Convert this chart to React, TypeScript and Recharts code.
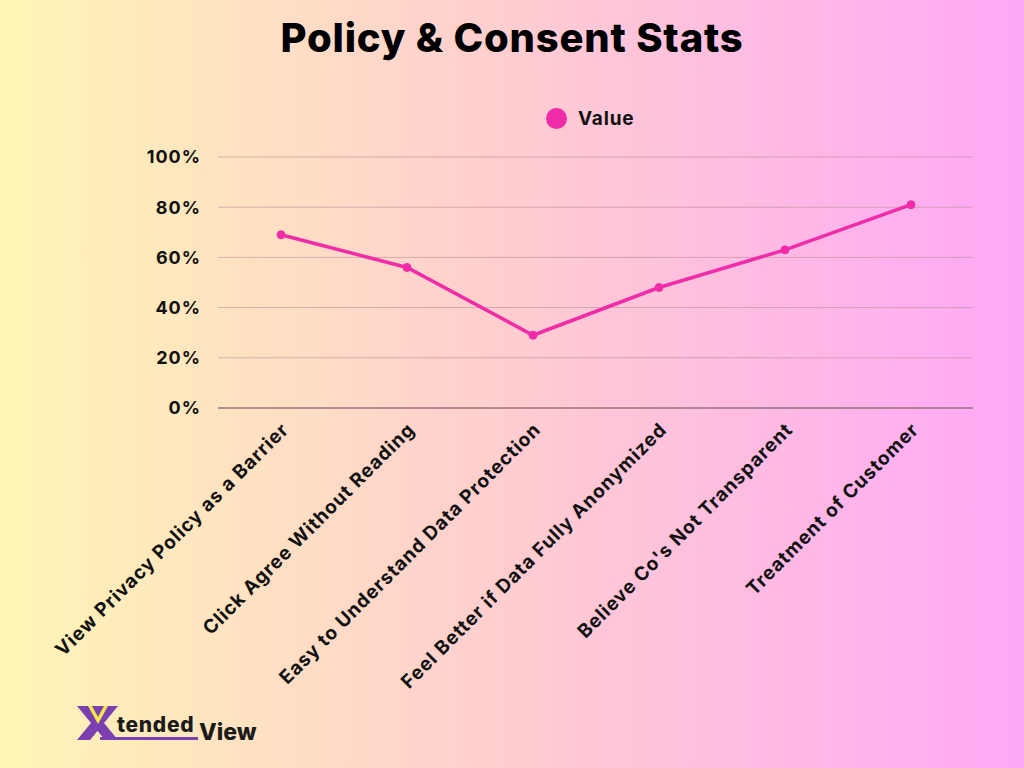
import React from 'react';
import {
  LineChart,
  Line,
  XAxis,
  YAxis,
  CartesianGrid,
  ReferenceLine
} from 'recharts';

const categories = [
  'View Privacy Policy as a Barrier',
  'Click Agree Without Reading',
  'Easy to Understand Data Protection',
  'Feel Better if Data Fully Anonymized',
  "Believe Co's Not Transparent",
  'Treatment of Customer'
];
const values = [69, 56, 29, 48, 63, 81];
const yTicks = [0, 20, 40, 60, 80, 100];

const data = categories.map((name, i) => ({ name, Value: values[i] }));

const FONT = 'Inter, "Open Sans", sans-serif';
const PINK = '#f02ca8';

const AngledTick = (props: any) => {
  const { x, y, payload } = props;
  return (
    <g transform={`translate(${x + 6},${y + 12})`}>
      <text
        x={0}
        y={0}
        dy={4}
        textAnchor="end"
        transform="rotate(-45)"
        fill="#111"
        fontSize={19}
        fontWeight={700}
        letterSpacing={0.9}
        fontFamily={FONT}
      >
        {payload.value}
      </text>
    </g>
  );
};

const Logo = () => (
  <svg width={210} height={50} style={{ position: 'absolute', left: 70, top: 700 }}>
    {/* X mark */}
    <polygon points="7,6 20,6 48,40 35,40" fill="#7b3fb0" />
    <polygon points="48,6 35,6 7,40 20,40" fill="#7b3fb0" />
    <polygon points="18,6 38,6 28,24" fill="#f6e84a" />
    <polygon points="22,6 34,6 28,17" fill="#7b3fb0" />
    <text x={47} y={32} fontFamily={FONT} fontWeight={800} fontSize={21} letterSpacing={0.7} fill="#1b1b1b">tended</text>
    <rect x={30} y={37} width={98} height={3} fill="#7b3fb0" />
    <text x={129} y={40} fontFamily={FONT} fontWeight={800} fontSize={23} fill="#1b1b1b">View</text>
  </svg>
);

export default function App() {
  return (
    <div
      style={{
        position: 'fixed',
        left: 0,
        top: 0,
        width: 1024,
        height: 768,
        background: 'linear-gradient(to right, #fff5b5 0%, #ffcdd0 50%, #ffa8f7 100%)',
        overflow: 'hidden'
      }}
    >
      <div
        style={{
          position: 'absolute',
          top: 13,
          left: 0,
          width: 1024,
          textAlign: 'center',
          fontFamily: FONT,
          fontWeight: 800,
          fontSize: 40,
          letterSpacing: 0.8,
          color: '#000'
        }}
      >
        Policy &amp; Consent Stats
      </div>
      <div
        style={{
          position: 'absolute',
          top: 107,
          left: 546,
          display: 'flex',
          alignItems: 'center',
          gap: 11
        }}
      >
        <span style={{ width: 21, height: 21, borderRadius: '50%', background: PINK, display: 'inline-block' }} />
        <span style={{ fontFamily: FONT, fontWeight: 700, fontSize: 19, letterSpacing: 0.8, color: '#111' }}>Value</span>
      </div>
      <LineChart
        width={1024}
        height={768}
        data={data}
        margin={{ top: 157, right: 51, left: 0, bottom: 0 }}
        style={{ position: 'absolute', left: 0, top: 0 }}
      >
        <CartesianGrid vertical={false} stroke="#b48c96" strokeOpacity={0.6} />
        <XAxis
          dataKey="name"
          interval={0}
          padding={{ left: 63, right: 62 }}
          tick={<AngledTick />}
          tickLine={false}
          axisLine={false}
          height={360}
        />
        <YAxis
          width={218}
          domain={[0, 100]}
          ticks={yTicks}
          tickFormatter={(v: number) => `${v}%`}
          tickLine={false}
          axisLine={false}
          tickMargin={11}
          tick={{ fill: '#111', fontSize: 18, fontWeight: 700, letterSpacing: 1, fontFamily: FONT }}
        />
        <ReferenceLine y={0} stroke="#7a5a66" strokeWidth={1.2} />
        <Line
          type="linear"
          dataKey="Value"
          stroke={PINK}
          strokeWidth={3.5}
          dot={{ r: 4, fill: PINK, stroke: PINK, strokeWidth: 1 }}
          isAnimationActive={false}
        />
      </LineChart>
      <Logo />
    </div>
  );
}
